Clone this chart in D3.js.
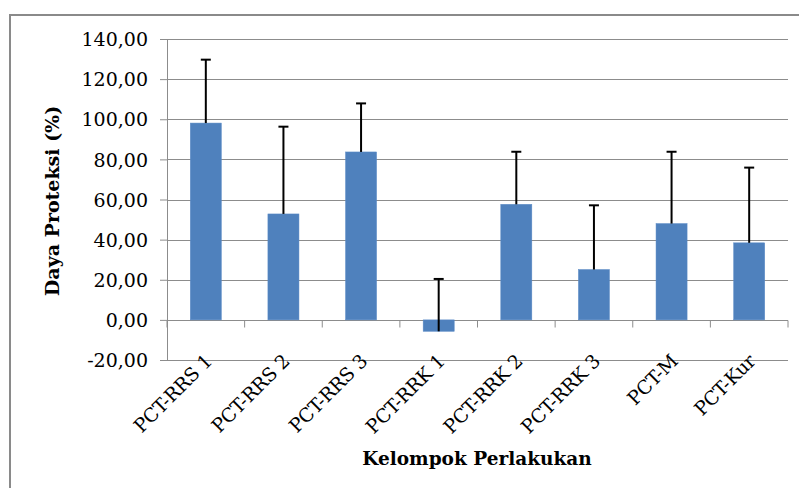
<!DOCTYPE html>
<html>
<head>
<meta charset="utf-8">
<script src="https://cdn.jsdelivr.net/npm/d3@7"></script>
<style>
  body { margin: 0; background: #fff; }
  svg text { font-family: "DejaVu Serif", "Liberation Serif", serif; fill: #000; }
</style>
</head>
<body>
<script>
// data
var categories = ["PCT-RRS 1", "PCT-RRS 2", "PCT-RRS 3", "PCT-RRK 1", "PCT-RRK 2", "PCT-RRK 3", "PCT-M", "PCT-Kur"];
var values = [98.1, 52.8, 83.7, -5.7, 57.6, 25.1, 48.0, 38.4];
var errors = [31.6, 43.5, 24.2, 26.1, 26.2, 32.0, 35.8, 37.5];
var yTicks = [-20, 0, 20, 40, 60, 80, 100, 120, 140];

var w = 799;
var h = 488;
var plotLeft = 167, plotRight = 788, plotTop = 39, plotBottom = 360;

var svg = d3.select("body")
            .append("svg")
            .attr("width", w)
            .attr("height", h);

// outer chart border
svg.append("rect")
   .attr("x", 10).attr("y", 15)
   .attr("width", 820).attr("height", 500)
   .attr("fill", "none")
   .attr("stroke", "#8a8a8a")
   .attr("stroke-width", 2);

var x = d3.scaleBand()
          .domain(categories)
          .range([plotLeft, plotRight])
          .paddingInner(0.6)
          .paddingOuter(0.3);

var y = d3.scaleLinear()
          .domain([-20, 140])
          .range([plotBottom, plotTop]);

var fmt = function(d) { return d3.format(".2f")(d).replace(".", ",").replace("\u2212", "-"); };

// gridlines
svg.append("g")
   .selectAll("line")
   .data(yTicks)
   .enter()
   .append("line")
   .attr("x1", plotLeft)
   .attr("x2", plotRight)
   .attr("y1", function(d) { return Math.round(y(d)) + 0.5; })
   .attr("y2", function(d) { return Math.round(y(d)) + 0.5; })
   .attr("stroke", "#8c8c8c")
   .attr("stroke-width", 1);

// y axis
var yAxis = svg.append("g")
   .attr("transform", "translate(" + plotLeft + ",0)")
   .call(d3.axisLeft(y).tickValues(yTicks).tickFormat(fmt).tickSize(7).tickPadding(12));
yAxis.select(".domain").attr("stroke", "#8c8c8c");
yAxis.selectAll(".tick line").attr("stroke", "#8c8c8c");
yAxis.selectAll("text").style("font-size", "19px").attr("dy", "0.35em");

// zero axis with category ticks
var zy = Math.round(y(0)) + 0.5;
svg.append("line")
   .attr("x1", plotLeft).attr("x2", plotRight)
   .attr("y1", zy).attr("y2", zy)
   .attr("stroke", "#8c8c8c");
var bounds = d3.range(categories.length + 1);
svg.append("g")
   .selectAll("line")
   .data(bounds)
   .enter()
   .append("line")
   .attr("x1", function(d) { return plotLeft + d * (plotRight - plotLeft) / categories.length; })
   .attr("x2", function(d) { return plotLeft + d * (plotRight - plotLeft) / categories.length; })
   .attr("y1", zy)
   .attr("y2", zy + 7)
   .attr("stroke", "#8c8c8c");

// bars
svg.append("g")
   .selectAll("rect")
   .data(values)
   .enter()
   .append("rect")
   .attr("x", function(d, i) { return x(categories[i]); })
   .attr("width", x.bandwidth())
   .attr("y", function(d) { return y(Math.max(0, d)); })
   .attr("height", function(d) { return Math.abs(y(d) - y(0)); })
   .attr("fill", "#4f81bd")
   .attr("stroke", "#5a8ac6")
   .attr("stroke-width", 0.5);

// error bars (plus only)
var eb = svg.append("g");
values.forEach(function(v, i) {
  var cx = x(categories[i]) + x.bandwidth() / 2;
  eb.append("line")
    .attr("x1", cx).attr("x2", cx)
    .attr("y1", y(v)).attr("y2", y(v + errors[i]))
    .attr("stroke", "#000").attr("stroke-width", 2);
  eb.append("line")
    .attr("x1", cx - 5).attr("x2", cx + 5)
    .attr("y1", y(v + errors[i])).attr("y2", y(v + errors[i]))
    .attr("stroke", "#000").attr("stroke-width", 2);
});

// category labels
svg.append("g")
   .selectAll("text")
   .data(categories)
   .enter()
   .append("text")
   .attr("transform", function(d) {
     return "translate(" + (x(d) + x.bandwidth() / 2 - 2) + "," + (plotBottom - 7) + ") rotate(-45)";
   })
   .attr("text-anchor", "end")
   .attr("dy", "0.7em")
   .style("font-size", "19px")
   .style("letter-spacing", "-0.3px")
   .text(function(d) { return d; });

// axis titles
svg.append("text")
   .attr("transform", "translate(59,201) rotate(-90)")
   .attr("text-anchor", "middle")
   .style("font-size", "19px")
   .style("font-weight", "bold")
   .text("Daya Proteksi (%)");

svg.append("text")
   .attr("x", 477)
   .attr("y", 465)
   .attr("text-anchor", "middle")
   .style("font-size", "18.5px")
   .style("font-weight", "bold")
   .text("Kelompok Perlakukan");
</script>
</body>
</html>
